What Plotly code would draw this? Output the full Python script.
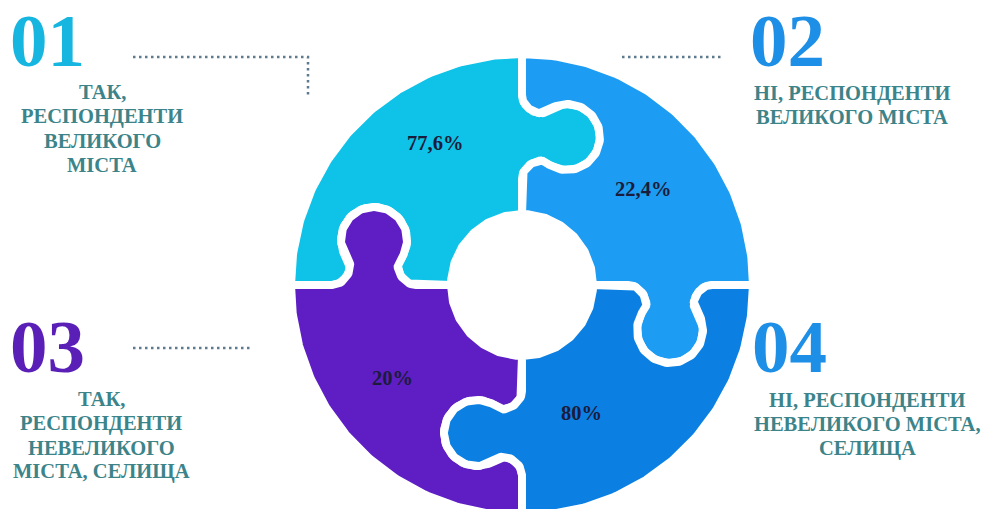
import numpy as np
import plotly.graph_objects as go

# Survey answers: one puzzle piece per answer
numbers = ["01", "02", "03", "04"]
answers = [
    "ТАК,<br>РЕСПОНДЕНТИ<br>ВЕЛИКОГО<br>МІСТА",
    "НІ, РЕСПОНДЕНТИ<br>ВЕЛИКОГО МІСТА",
    "ТАК,<br>РЕСПОНДЕНТИ<br>НЕВЕЛИКОГО<br>МІСТА, СЕЛИЩА",
    "НІ, РЕСПОНДЕНТИ<br>НЕВЕЛИКОГО МІСТА,<br>СЕЛИЩА",
]
shares = [77.6, 22.4, 20, 80]

# Styling
piece_colors = ["#0FC3E8", "#1C9CF2", "#5E1EC4", "#0B80E2"]
number_colors = ["#16B6E0", "#1E8FE6", "#5A1FB6", "#1E8FE6"]
TEXT_COLOR = "#3C8489"
PCT_COLOR = "#1B1B3C"
DOT_COLOR = "#5E7A8E"
SERIF = "Liberation Serif"
LABEL_SIZE = 20.5
LINE_STEP = 24.3

# Ring geometry (screen pixels, y grows downwards)
C = np.array([522.0, 285.0])
R_OUT, R_IN = 231.0, 71.0
T_KNOB = 148.0
HEAD_R, HEAD_D, NECK_W, SHOULDER = 33.0, 45.0, 25.0, 42.0
GAP = 8

# piece i spans the angle range starting at start_angles[i] (clockwise, 90 deg)
start_angles = [np.pi, 1.5 * np.pi, 0.5 * np.pi, 0.0]


def cubic(p0, p1, p2, p3, n=24):
    s = np.linspace(0, 1, n)[:, None]
    return ((1 - s) ** 3) * p0 + 3 * ((1 - s) ** 2) * s * p1 + 3 * (1 - s) * s ** 2 * p2 + s ** 3 * p3


def knob_local():
    vn = HEAD_D - np.sqrt(HEAD_R ** 2 - NECK_W ** 2)
    tan = np.array([-(HEAD_D - vn), NECK_W]) / HEAD_R
    neck = np.array([-NECK_W, vn])
    left = cubic(np.array([-SHOULDER, 0.0]), np.array([-SHOULDER + 14, 0.0]),
                 neck - 7 * tan, neck)
    alpha = np.arctan2(HEAD_D - vn, NECK_W)
    phi = np.linspace(np.pi + alpha, -alpha, 90)
    arc = np.column_stack([HEAD_R * np.cos(phi), HEAD_D + HEAD_R * np.sin(phi)])
    right = left[::-1] * np.array([-1, 1])
    return np.vstack([left, arc[1:-1], right])


KNOB = knob_local()


def boundary(theta):
    d = np.array([np.cos(theta), np.sin(theta)])
    p = np.array([-np.sin(theta), np.cos(theta)])
    pts = [C + R_IN * d]
    for u, v in KNOB:
        pts.append(C + (T_KNOB + u) * d + v * p)
    pts.append(C + R_OUT * d)
    return np.array(pts)


def arc(r, a0, a1, n=120):
    a = np.linspace(a0, a1, n)
    return np.column_stack([C[0] + r * np.cos(a), C[1] + r * np.sin(a)])


def piece(a0):
    a1 = a0 + np.pi / 2
    return np.vstack([boundary(a0), arc(R_OUT, a0, a1), boundary(a1)[::-1],
                      arc(R_IN, a1, a0)])


fig = go.Figure()

for a0, col in zip(start_angles, piece_colors):
    xy = piece(a0)
    fig.add_trace(go.Scatter(x=xy[:, 0], y=xy[:, 1], mode="lines", fill="toself",
                             fillcolor=col, line=dict(color="white", width=GAP),
                             hoverinfo="skip", showlegend=False))

# dotted leader lines
leaders = [
    ([133, 308, 308], [57, 57, 98]),
    ([622, 722], [57, 57]),
    ([133, 253], [348, 348]),
]
for lx, ly in leaders:
    fig.add_trace(go.Scatter(x=lx, y=ly, mode="lines",
                             line=dict(color=DOT_COLOR, width=2.5, dash="2.5px,3.5px"),
                             hoverinfo="skip", showlegend=False))

# label placement
number_pos = [(8, 40), (748, 40), (8, 346), (750, 346)]
answer_pos = [(102, 92), (852, 93), (101, 399), (867, 400)]
pct_pos = [(435, 143), (643, 189), (392, 378), (581, 413)]

for i in range(4):
    fig.add_annotation(x=number_pos[i][0], y=number_pos[i][1], text=numbers[i],
                       xanchor="left", yanchor="middle", showarrow=False,
                       font=dict(family=SERIF, size=75, color=number_colors[i], weight="bold"))
    ax, ay = answer_pos[i]
    for k, line in enumerate(answers[i].split("<br>")):
        fig.add_annotation(x=ax, y=ay + k * LINE_STEP, text=line,
                           xanchor="center", yanchor="middle", showarrow=False,
                           font=dict(family=SERIF, size=LABEL_SIZE, color=TEXT_COLOR,
                                     weight="bold"))
    pct = f"{shares[i]:g}".replace(".", ",") + "%"
    fig.add_annotation(x=pct_pos[i][0], y=pct_pos[i][1], text=pct,
                       xanchor="center", yanchor="middle", showarrow=False,
                       font=dict(family=SERIF, size=20.5, color=PCT_COLOR, weight="bold"))

fig.update_layout(
    width=981, height=509, autosize=False,
    margin=dict(l=0, r=0, t=0, b=0, pad=0),
    paper_bgcolor="white", plot_bgcolor="white",
    xaxis=dict(range=[0, 981], visible=False, fixedrange=True),
    yaxis=dict(range=[509, 0], visible=False, fixedrange=True),
)

fig.write_html("out.html")
